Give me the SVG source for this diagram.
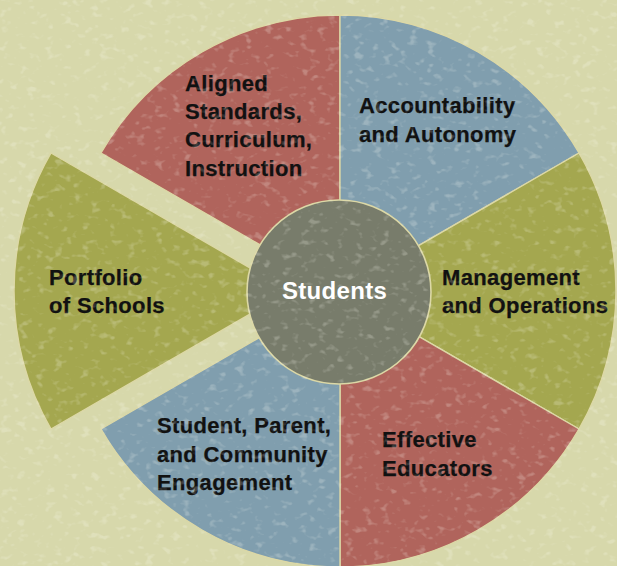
<svg xmlns="http://www.w3.org/2000/svg" width="617" height="566" viewBox="0 0 617 566">
  <style>
    .sec { stroke: #dcd8a6; stroke-width: 1.4; stroke-linejoin: round; }
    .red { fill: #b0645c; }
    .blue { fill: #809eae; }
    .green { fill: #a4a74f; }
    .lbl { font-family: "Liberation Sans", Arial, sans-serif; font-weight: bold; font-size: 22px; letter-spacing: 0.35px; fill: #111111; stroke: #111111; stroke-width: 0.25px; }
    .center { font-family: "Liberation Sans", Arial, sans-serif; font-weight: bold; font-size: 24px; letter-spacing: 0.3px; fill: #ffffff; }
  </style>
  <defs>
    <filter id="grain" x="0" y="0" width="617" height="566" filterUnits="userSpaceOnUse">
      <feTurbulence type="fractalNoise" baseFrequency="0.11 0.15" numOctaves="2" seed="7" result="n"/>
      <feColorMatrix in="n" type="matrix" values="0 0 0 0 1  0 0 0 0 1  0 0 0 0 0.92  5 0 0 0 -2.9"/>
    </filter>
  </defs>

  <rect id="background" x="0" y="0" width="617" height="566" fill="#d7d8ab"/>

  <g id="connectors"></g>

  <g id="sector-aligned-standards">
    <path class="sec red" d="M340,291 L340,15 A276,276 0 0 0 101,153 Z"/>
    <text class="lbl" x="185" y="91">Aligned</text>
    <text class="lbl" x="185" y="119">Standards,</text>
    <text class="lbl" x="185" y="147">Curriculum,</text>
    <text class="lbl" x="185" y="176">Instruction</text>
  </g>

  <g id="sector-accountability">
    <path class="sec blue" d="M340,291 L579,153 A276,276 0 0 0 340,15 Z"/>
    <text class="lbl" x="359" y="113">Accountability</text>
    <text class="lbl" x="359" y="142">and Autonomy</text>
  </g>

  <g id="sector-management">
    <path class="sec green" d="M340,291 L579,429 A276,276 0 0 0 579,153 Z"/>
    <text class="lbl" x="442" y="285">Management</text>
    <text class="lbl" x="442" y="313">and Operations</text>
  </g>

  <g id="sector-effective-educators">
    <path class="sec red" d="M340,291 L340,567 A276,276 0 0 0 579,429 Z"/>
    <text class="lbl" x="382" y="447">Effective</text>
    <text class="lbl" x="382" y="476">Educators</text>
  </g>

  <g id="sector-engagement">
    <path class="sec blue" d="M340,291 L101,429 A276,276 0 0 0 340,567 Z"/>
    <text class="lbl" x="157" y="433">Student, Parent,</text>
    <text class="lbl" x="157" y="462">and Community</text>
    <text class="lbl" x="157" y="490">Engagement</text>
  </g>

  <g id="sector-portfolio">
    <path class="sec green" d="M290,291 L51,153 A276,276 0 0 0 51,429 Z"/>
    <text class="lbl" x="49" y="285">Portfolio</text>
    <text class="lbl" x="49" y="313">of Schools</text>
  </g>

  <g id="students">
    <circle cx="339" cy="292" r="92" fill="#787c6b" stroke="#dcd8a6" stroke-width="1.6"/>
  </g>

  <rect x="0" y="0" width="617" height="566" filter="url(#grain)" opacity="0.22" pointer-events="none"/>

  <g id="students-label">
    <text class="center" x="282" y="299">Students</text>
  </g>
</svg>
